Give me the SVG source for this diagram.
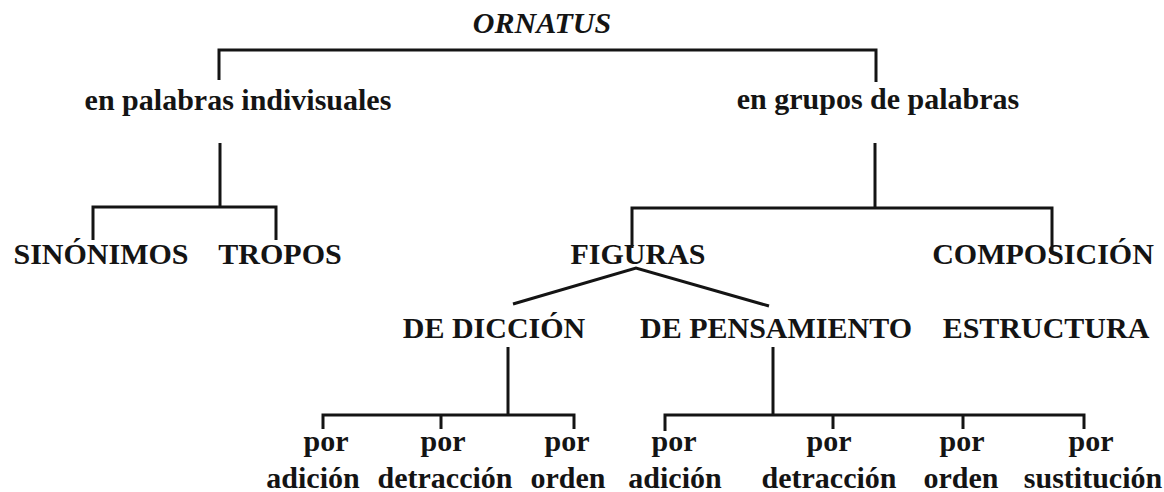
<svg xmlns="http://www.w3.org/2000/svg" width="1164" height="492" viewBox="0 0 1164 492">
<style>
text{font-family:"Liberation Serif","Times New Roman",serif;font-weight:bold;font-size:30px;fill:#141414;text-anchor:middle}
.it{font-style:italic}
.c{fill:none;stroke:#141414;stroke-width:3;stroke-linecap:butt;stroke-linejoin:miter}
</style>
<rect width="1164" height="492" fill="#ffffff"/>
<g id="connectors">
<path class="c" d="M219,80 V50 H876 V82"/>
<path class="c" d="M220,143 V207"/>
<path class="c" d="M93,240 V207 H276 V240"/>
<path class="c" d="M875,143 V208"/>
<path class="c" d="M632,248 V208 H1052 V254"/>
<path class="c" d="M513,304 L636,268 L769,306"/>
<path class="c" d="M508,347 V415"/>
<path class="c" d="M323,429 V415 H574 V429 M441,415 V429"/>
<path class="c" d="M773,347 V415"/>
<path class="c" d="M665,431 V415 H1084 V429 M833,415 V429 M963,415 V429"/>
</g>
<g id="n-ornatus"><text class="it" x="542" y="33">ORNATUS</text></g>
<g id="n-palabras"><text x="238" y="110">en palabras indivisuales</text></g>
<g id="n-grupos"><text x="878" y="109">en grupos de palabras</text></g>
<g id="n-sinonimos"><text x="101" y="264">SINÓNIMOS</text></g>
<g id="n-tropos"><text x="280" y="264">TROPOS</text></g>
<g id="n-figuras"><text x="638" y="264">FIGURAS</text></g>
<g id="n-composicion"><text x="1043" y="264">COMPOSICIÓN</text></g>
<g id="n-diccion"><text x="494" y="338">DE DICCIÓN</text></g>
<g id="n-pensamiento"><text x="776" y="338">DE PENSAMIENTO</text></g>
<g id="n-estructura"><text x="1046" y="338">ESTRUCTURA</text></g>
<g id="n-d-adicion"><text x="326" y="451">por</text><text x="313" y="488">adición</text></g>
<g id="n-d-detraccion"><text x="443" y="451">por</text><text x="445" y="488">detracción</text></g>
<g id="n-d-orden"><text x="567" y="451">por</text><text x="568" y="488">orden</text></g>
<g id="n-p-adicion"><text x="674" y="451">por</text><text x="675" y="488">adición</text></g>
<g id="n-p-detraccion"><text x="829" y="451">por</text><text x="829" y="488">detracción</text></g>
<g id="n-p-orden"><text x="962" y="451">por</text><text x="961" y="488">orden</text></g>
<g id="n-p-sustitucion"><text x="1091" y="451">por</text><text x="1093" y="488">sustitución</text></g>
</svg>
